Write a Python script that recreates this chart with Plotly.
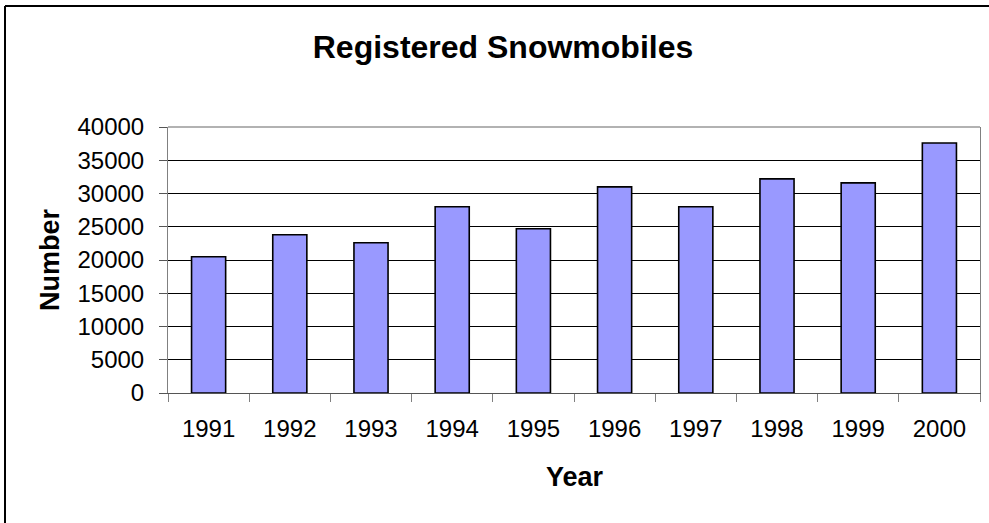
import plotly.graph_objects as go

years = ["1991", "1992", "1993", "1994", "1995", "1996", "1997", "1998", "1999", "2000"]
registered = [20500, 23800, 22600, 28000, 24700, 31000, 28000, 32200, 31600, 37600]
y_ticks = [0, 5000, 10000, 15000, 20000, 25000, 30000, 35000, 40000]

W, H = 989, 523
L, R, T, B = 168, 980, 127, 393

fig = go.Figure(go.Bar(
    x=years, y=registered,
    marker=dict(color="#9999FF", line=dict(color="black", width=1.6)),
))

font = "Liberation Sans, Arial, sans-serif"
fig.update_layout(
    width=W, height=H,
    margin=dict(l=L, r=W - R, t=T, b=H - B, pad=0),
    paper_bgcolor="white", plot_bgcolor="white",
    bargap=0.58, showlegend=False,
    font=dict(family=font, color="black", size=24),
    title=dict(text="<b>Registered Snowmobiles</b>", x=503 / W, y=1 - 47 / H,
               xref="container", yref="container", xanchor="center", yanchor="middle",
               font=dict(size=32, family=font, color="black")),
    xaxis=dict(type="category", showgrid=False, showline=True, linecolor="#555555", linewidth=1,
               ticks="outside", ticklen=8, tickcolor="#808080", tickwidth=1,
               tickson="boundaries", ticklabelstandoff=14),
    yaxis=dict(range=[0, 40000], tickvals=y_ticks, tickformat="d", showgrid=True,
               gridcolor="black", gridwidth=1,
               zeroline=False, showline=True, linecolor="#808080", linewidth=1, mirror=True,
               ticks="outside", ticklen=8, tickcolor="#555555", tickwidth=1,
               ticklabelstandoff=10, fixedrange=True),
    shapes=[
        dict(type="line", xref="paper", yref="paper", x0=0, x1=1, y0=1, y1=1,
             line=dict(color="#999999", width=1.5)),
        dict(type="line", xref="paper", yref="paper",
             x0=(5 - L) / (R - L), x1=(1200 - L) / (R - L),
             y0=(B - 6) / (B - T), y1=(B - 6) / (B - T),
             line=dict(color="black", width=2)),
        dict(type="line", xref="paper", yref="paper",
             x0=(5 - L) / (R - L), x1=(5 - L) / (R - L),
             y0=(B - 6) / (B - T), y1=(B - 700) / (B - T),
             line=dict(color="black", width=2)),
    ],
    annotations=[
        dict(text="<b>Number</b>", xref="paper", yref="paper",
             x=(50 - L) / (R - L), y=0.5, textangle=-90, showarrow=False,
             xanchor="center", yanchor="middle", font=dict(size=27, family=font)),
        dict(text="<b>Year</b>", xref="paper", yref="paper",
             x=(575 - L) / (R - L), y=(B - 477) / (B - T), showarrow=False,
             xanchor="center", yanchor="middle", font=dict(size=27, family=font)),
    ],
)

fig.write_html("out.html", config={"displayModeBar": False},
               post_script="document.body.style.margin='0px';document.body.style.overflow='hidden';")
